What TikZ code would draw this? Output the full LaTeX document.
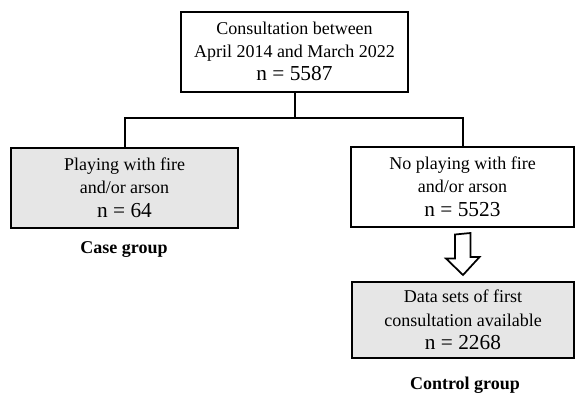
\documentclass[tikz,border=0pt]{standalone}
\usepackage{fontspec}
\setmainfont{Liberation Serif}
\usepackage{tikz}
\usetikzlibrary{calc}

\definecolor{boxgray}{RGB}{230,230,230}
\tikzset{
  flowbox/.style={draw, line width=1.5pt, align=center, inner sep=0pt,
    minimum width=170pt, minimum height=60pt,
    font=\fontsize{13.5}{17.5}\selectfont},
  grayfill/.style={fill=boxgray},
  grouplabel/.style={font=\fontsize{13.5}{16}\selectfont\bfseries},
  link/.style={line width=1.5pt},
  hollowarrow/.style={draw, line width=1.3pt, fill=white, line join=miter}
}
\newcommand{\ncount}[1]{{\fontsize{16}{19}\selectfont n = #1}}

\begin{document}
\begin{tikzpicture}[x=0.75pt,y=-0.75pt]
            \useasboundingbox (0,0) rectangle (575,396);
            \node[flowbox] (consult) at (294.5,51.5) {Consultation between\\April 2014 and March 2022\\\ncount{5587}};
            \node[flowbox, grayfill] (caseb) at (124.5,187.5) {Playing with fire\\and/or arson\\\ncount{64}};
            \node[flowbox, minimum width=167pt] (nobox) at (462.5,186.5) {No playing with fire\\and/or arson\\\ncount{5523}};
            \node[flowbox, grayfill, minimum width=166.5pt, minimum height=57pt] (datab) at (463,320) {Data sets of first\\consultation available\\\ncount{2268}};
            \node[grouplabel] (caselabel) at (124,250) {Case group};
            \node[grouplabel] (ctrllabel) at (465,385) {Control group};
            % split line between the groups
            \coordinate (split) at (294.5,118);
            \draw[link] (consult.south) -- (split);
            \draw[link] (caseb.north) |- (split) -| (nobox.north);
            % hollow block arrow
            \draw[hollowarrow] ([shift={(-5.6pt,-5.25pt)}]nobox.south) -- ++(0,-18pt) -- ++(-6.8pt,0)
              -- ([yshift=4.5pt]datab.north) -- ++(12.4pt,13.5pt) -- ++(-6.8pt,0) -- ++(0,18pt) -- cycle;
        \end{tikzpicture}
\end{document}
